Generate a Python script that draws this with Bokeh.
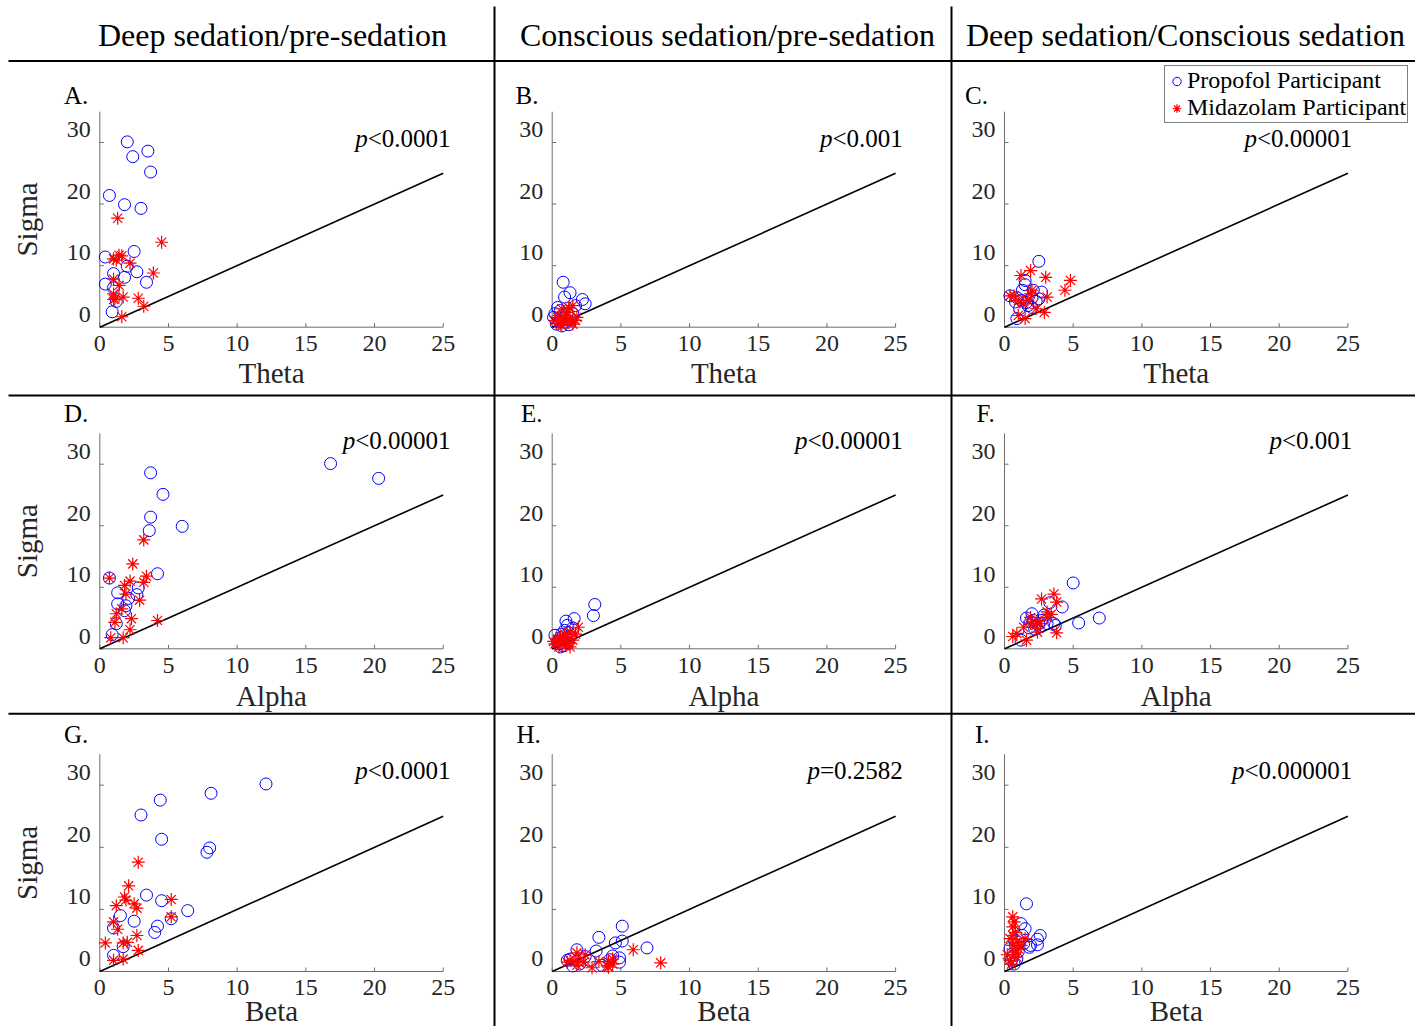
import math
from bokeh.plotting import figure
from bokeh.models import Range1d, Legend
from bokeh.core.properties import value
from bokeh.embed import file_html
from bokeh.resources import INLINE

# ---------------- data ----------------
col_headers = ["Deep sedation/pre-sedation", "Conscious sedation/pre-sedation",
               "Deep sedation/Conscious sedation"]
panel_letters = [["A.", "B.", "C."], ["D.", "E.", "F."], ["G.", "H.", "I."]]
x_labels = ["Theta", "Alpha", "Beta"]
y_label = "Sigma"
p_values = [["<0.0001", "<0.001", "<0.00001"],
            ["<0.00001", "<0.00001", "<0.001"],
            ["<0.0001", "=0.2582", "<0.000001"]]
series_names = ["Propofol Participant", "Midazolam Participant"]
x_ticks = [0, 5, 10, 15, 20, 25]
y_ticks = [0, 10, 20, 30]
x_axis_max = 25
y_axis_max = 35
unity_line = [0, 25]

A_prop_x = [2.0, 2.4, 3.5, 3.7, 0.7, 1.8, 3.0, 2.5, 0.4, 2.0, 2.7, 1.0, 1.8, 0.4, 3.4, 1.0, 1.2, 0.9]
A_prop_y = [30.1, 27.7, 28.6, 25.2, 21.4, 19.9, 19.3, 12.3, 11.4, 9.9, 9.0, 8.7, 8.1, 7.0, 7.3, 6.4, 4.2, 2.5]
A_mid_x = [1.3, 4.5, 1.0, 1.4, 1.2, 1.6, 2.2, 3.9, 1.0, 1.4, 1.0, 1.1, 1.7, 2.8, 3.2, 1.6, 1.0]
A_mid_y = [17.7, 13.8, 11.1, 11.7, 10.9, 11.6, 10.4, 8.8, 7.8, 6.8, 5.4, 4.6, 4.9, 4.7, 3.4, 1.7, 4.5]

B_prop_x = [0.8, 1.3, 0.9, 2.2, 2.4, 0.4, 1.7, 0.2, 0.1, 1.1, 0.6, 0.9, 1.5, 0.5, 1.2, 0.3, 1.0, 0.7]
B_prop_y = [7.3, 5.6, 4.9, 4.5, 3.8, 3.2, 3.5, 2.2, 1.6, 2.2, 2.7, 0.8, 2.2, 1.0, 0.4, 0.5, 1.2, 0.2]
B_mid_x = [1.5, 0.7, 1.1, 0.5, 1.3, 1.7, 0.9, 0.2, 0.6, 1.5, 1.1, 0.4, 1.0, 1.8, 0.7, 1.2, 0.9]
B_mid_y = [3.5, 3.0, 2.4, 1.9, 1.6, 1.1, 1.4, 1.1, 0.5, 0.5, 0.8, 1.6, 1.9, 1.6, 0.3, 3.2, 1.2]

C_prop_x = [2.5, 1.5, 1.5, 0.4, 2.1, 2.7, 1.2, 0.8, 2.5, 2.3, 1.7, 0.9, 2.0, 1.3, 1.1, 2.0, 1.6, 0.9]
C_prop_y = [10.7, 7.6, 6.9, 5.1, 6.0, 5.7, 4.4, 4.1, 4.6, 4.2, 3.5, 1.4, 4.8, 6.0, 3.0, 3.2, 4.0, 4.8]
C_mid_x = [1.9, 1.2, 3.0, 4.8, 4.4, 3.1, 2.0, 0.7, 0.4, 1.0, 1.7, 1.4, 2.3, 2.9, 1.0, 1.5, 1.9]
C_mid_y = [9.2, 8.4, 8.1, 7.6, 6.0, 4.9, 6.0, 5.1, 5.1, 4.3, 4.4, 3.8, 3.0, 2.4, 1.9, 1.4, 5.4]

D_prop_x = [16.8, 20.3, 3.7, 4.6, 3.7, 6.0, 3.6, 4.2, 0.7, 2.8, 1.3, 2.1, 1.3, 1.9, 2.7, 1.8, 1.2, 0.9]
D_prop_y = [30.1, 27.7, 28.6, 25.1, 21.4, 19.9, 19.2, 12.2, 11.5, 9.9, 9.1, 8.2, 7.3, 7.0, 8.8, 6.2, 4.1, 2.3]
D_mid_x = [3.2, 2.4, 3.4, 3.2, 2.2, 1.8, 0.7, 1.9, 2.9, 1.2, 1.6, 1.1, 2.3, 4.2, 2.2, 0.8, 1.7]
D_mid_y = [17.7, 13.8, 11.8, 10.8, 11.0, 10.3, 11.5, 8.9, 7.9, 5.7, 6.5, 4.3, 4.9, 4.6, 3.1, 1.8, 1.8]

E_prop_x = [3.1, 3.0, 1.6, 1.0, 1.1, 1.5, 0.2, 0.7, 1.0, 0.5, 1.3, 0.6, 0.9, 0.4, 1.1, 0.8, 1.2, 0.6]
E_prop_y = [7.2, 5.4, 4.9, 4.5, 3.8, 3.4, 2.2, 2.4, 1.6, 0.8, 1.9, 0.3, 3.0, 1.2, 1.0, 0.5, 2.6, 1.8]
E_mid_x = [1.9, 1.3, 0.9, 0.4, 1.1, 0.7, 1.5, 0.1, 0.6, 1.0, 0.5, 1.2, 1.7, 0.2, 0.9, 1.3]
E_mid_y = [3.5, 2.7, 2.4, 1.6, 1.6, 1.1, 1.4, 1.2, 1.9, 0.5, 0.3, 0.8, 2.4, 0.8, 1.6, 0.3]

F_prop_x = [5.0, 6.9, 5.4, 4.2, 3.3, 2.0, 1.6, 3.6, 1.8, 2.5, 2.7, 2.1, 3.7, 1.2, 3.1, 2.2, 2.9, 1.9]
F_prop_y = [10.7, 5.0, 4.2, 6.8, 7.5, 5.7, 5.0, 4.1, 3.4, 4.1, 4.6, 4.6, 3.8, 1.4, 4.1, 3.2, 5.5, 4.4]
F_mid_x = [3.6, 2.7, 3.8, 3.1, 3.4, 1.9, 2.4, 2.6, 1.9, 1.4, 2.3, 3.8, 0.9, 0.6, 1.6, 2.4, 3.1]
F_mid_y = [8.9, 8.1, 7.6, 6.0, 5.6, 5.1, 4.6, 4.1, 4.1, 3.5, 3.8, 2.6, 2.5, 2.0, 1.4, 2.7, 5.1]

G_prop_x = [12.1, 8.1, 4.4, 3.0, 4.5, 8.0, 7.8, 3.4, 4.5, 6.4, 1.5, 2.5, 5.2, 4.2, 4.0, 1.0, 1.7, 1.0]
G_prop_y = [30.2, 28.7, 27.6, 25.2, 21.3, 19.9, 19.2, 12.3, 11.4, 9.8, 9.0, 8.1, 8.5, 7.3, 6.3, 7.0, 4.0, 2.6]
G_mid_x = [2.8, 2.1, 1.8, 1.2, 1.9, 2.5, 2.7, 5.2, 5.2, 1.0, 1.3, 2.7, 0.4, 1.7, 2.0, 2.8, 1.7, 1.0]
G_mid_y = [17.6, 13.8, 12.0, 10.6, 11.5, 10.9, 10.2, 11.6, 8.8, 8.0, 6.8, 5.8, 4.6, 4.6, 4.7, 3.4, 2.0, 1.8]

H_prop_x = [5.1, 3.4, 4.6, 5.1, 6.9, 1.8, 3.2, 4.9, 4.4, 1.3, 2.7, 4.9, 1.5, 1.1, 2.0, 3.6, 2.4, 4.2]
H_prop_y = [7.3, 5.5, 4.6, 4.9, 3.8, 3.5, 3.3, 2.2, 2.5, 2.0, 1.8, 1.5, 0.9, 1.8, 1.2, 1.0, 2.4, 1.9]
H_mid_x = [5.9, 7.9, 1.8, 2.4, 1.3, 1.9, 3.4, 4.1, 4.4, 4.0, 2.9, 1.8, 1.1, 4.4, 2.3, 4.1]
H_mid_y = [3.5, 1.4, 3.0, 2.7, 1.8, 1.5, 1.6, 1.6, 1.2, 0.9, 0.6, 1.0, 1.5, 2.0, 1.5, 0.7]

I_prop_x = [1.6, 1.2, 1.5, 2.6, 2.4, 2.4, 1.9, 1.8, 1.0, 0.4, 0.7, 0.8, 1.3, 0.6, 1.0, 0.5, 1.4, 0.9]
I_prop_y = [10.9, 7.7, 6.9, 5.8, 5.2, 4.3, 4.2, 3.9, 4.7, 3.7, 1.2, 4.2, 5.8, 2.5, 3.2, 1.8, 4.5, 2.0]
I_mid_x = [0.6, 0.7, 0.6, 0.8, 1.5, 0.9, 0.6, 1.0, 0.2, 0.7, 0.4, 0.9, 0.5, 0.8, 1.2, 0.4, 0.6]
I_mid_y = [8.8, 8.0, 5.8, 6.3, 5.3, 4.7, 4.2, 3.7, 2.7, 2.7, 1.8, 2.3, 1.2, 3.1, 4.2, 5.3, 7.2]

panel_data = [
    [(A_prop_x, A_prop_y, A_mid_x, A_mid_y), (B_prop_x, B_prop_y, B_mid_x, B_mid_y),
     (C_prop_x, C_prop_y, C_mid_x, C_mid_y)],
    [(D_prop_x, D_prop_y, D_mid_x, D_mid_y), (E_prop_x, E_prop_y, E_mid_x, E_mid_y),
     (F_prop_x, F_prop_y, F_mid_x, F_mid_y)],
    [(G_prop_x, G_prop_y, G_mid_x, G_mid_y), (H_prop_x, H_prop_y, H_mid_x, H_mid_y),
     (I_prop_x, I_prop_y, I_mid_x, I_mid_y)],
]

# ---------------- layout (canvas pixels, origin top-left) ----------------
FONT = "Liberation Serif"
DARK = "#262626"
AXIS_COLOR = "#6e6e6e"
CANVAS_W, CANVAS_H = 1415, 1026
COL_X0 = [99.3, 551.7, 1004.0]      # pixel of data x = 0 in each column
ROW_Y0 = [326.7, 648.3, 971.0]      # pixel of data y = 0 in each row
KX = 343.4 / 25                     # px per x unit
KY = [6.157, 6.153, 6.21]           # px per y unit for each row
HLINES_Y = [60.5, 395, 713.3]
HLINE_X0 = 8
VLINES_X = [494, 951]
VLINE_Y0 = 6
HEADER_X = [272, 727, 1185]
HEADER_Y = 34.5
LETTER_X = [[63.5, 515, 964.5], [63.5, 520.5, 976], [63.5, 516, 974.5]]
LETTER_Y = [95, 413.3, 733.8]
PTEXT_X = [25.53, 25.52, 25.32]
PTEXT_Y = [30.6, 33.93, 32.29]
XTICK_OFF = 16.2
YTICK_OFF = -12.7
XLABEL_OFF = [45.8, 47.2, 39.5]
SIGMA_X = -5.3
TICK_LEN = 4
PT_SIZE = 25
CHAR_W = {".": 0.25, "<": 0.564, "=": 0.564}


def text_width(s, size):
    return sum(CHAR_W.get(ch, 0.5) for ch in s) * size


p = figure(width=CANVAS_W, height=CANVAS_H, x_range=Range1d(0, CANVAS_W),
           y_range=Range1d(CANVAS_H, 0), x_axis_type=None, y_axis_type=None,
           toolbar_location=None, output_backend="svg", min_border=0,
           outline_line_color=None, background_fill_color="white")

# panel coordinate systems (through Bokeh's own scales)
for c in range(3):
    x0 = COL_X0[c]
    p.extra_x_ranges[f"xc{c}"] = Range1d(-x0 / KX, (CANVAS_W - x0) / KX)
for r in range(3):
    y0, ky = ROW_Y0[r], KY[r]
    p.extra_y_ranges[f"yr{r}"] = Range1d(-(CANVAS_H - y0) / ky, y0 / ky)

# separators
for yy in HLINES_Y:
    p.line(x=[HLINE_X0, CANVAS_W], y=[yy, yy], line_color="black", line_width=2)
for xx in VLINES_X:
    p.line(x=[xx, xx], y=[VLINE_Y0, CANVAS_H], line_color="black", line_width=2)

# column headers
for c in range(3):
    p.text(x=[HEADER_X[c]], y=[HEADER_Y], text=[col_headers[c]], text_align="center",
           text_baseline="middle", text_font=value(FONT), text_font_size="32px",
           text_color="black")

legend_items = None
for r in range(3):
    for c in range(3):
        kw = dict(x_range_name=f"xc{c}", y_range_name=f"yr{r}")
        ky = KY[r]
        # axes
        p.line(x=[0, x_axis_max], y=[0, 0], line_color=AXIS_COLOR, line_width=1, **kw)
        p.line(x=[0, 0], y=[0, y_axis_max], line_color=AXIS_COLOR, line_width=1, **kw)
        p.segment(x0=x_ticks, y0=[0] * len(x_ticks), x1=x_ticks,
                  y1=[TICK_LEN / ky] * len(x_ticks), line_color=AXIS_COLOR, line_width=1, **kw)
        p.segment(x0=[0] * len(y_ticks), y0=y_ticks, x1=[TICK_LEN / KX] * len(y_ticks),
                  y1=y_ticks, line_color=AXIS_COLOR, line_width=1, **kw)
        p.text(x=x_ticks, y=[0] * len(x_ticks), text=[str(t) for t in x_ticks],
               text_align="center", text_baseline="middle", y_offset=XTICK_OFF,
               text_font=value(FONT), text_font_size="24px", text_color=DARK, **kw)
        p.text(x=[0] * len(y_ticks), y=y_ticks, text=[str(t) for t in y_ticks],
               text_align="right", text_baseline="middle", x_offset=-9, y_offset=YTICK_OFF,
               text_font=value(FONT), text_font_size="24px", text_color=DARK, **kw)
        p.text(x=[x_axis_max / 2], y=[0], text=[x_labels[r]], text_align="center",
               text_baseline="middle", y_offset=XLABEL_OFF[r], text_font=value(FONT),
               text_font_size="29px", text_color=DARK, **kw)
        if c == 0:
            p.text(x=[SIGMA_X], y=[y_axis_max / 2], text=[y_label], angle=math.pi / 2,
                   text_align="center", text_baseline="middle", text_font=value(FONT),
                   text_font_size="29px", text_color=DARK, **kw)

        # panel letter
        p.text(x=[LETTER_X[r][c]], y=[LETTER_Y[r]], text=[panel_letters[r][c]],
               text_align="left", text_baseline="middle", text_font=value(FONT),
               text_font_size="25px", text_color="black")

        # data
        px, py, mx, my = panel_data[r][c]
        p.line(x=unity_line, y=unity_line, line_color="black", line_width=1.6, **kw)
        rp = p.scatter(x=px, y=py, marker="circle", size=12, fill_color=None,
                       line_color="#0000FF", line_width=1, **kw)
        rm = p.scatter(x=mx, y=my, marker="asterisk", size=13, line_color="#FF0000",
                       line_width=1.2, **kw)
        if r == 0 and c == 2:
            legend_items = [(series_names[0], [rp]), (series_names[1], [rm])]

        # p-value annotation
        ptxt = p_values[r][c]
        p.text(x=[PTEXT_X[c]], y=[PTEXT_Y[r]], text=[ptxt], text_align="right",
               text_baseline="middle", text_font=value(FONT),
               text_font_size=f"{PT_SIZE}px", text_color="black", **kw)
        p.text(x=[PTEXT_X[c]], y=[PTEXT_Y[r]], text=["p"], text_align="right",
               text_baseline="middle", text_font=value(FONT), text_font_style="italic",
               text_font_size=f"{PT_SIZE}px", text_color="black",
               x_offset=-text_width(ptxt, PT_SIZE), **kw)

legend = Legend(items=legend_items, location=(1164, 903))
legend.label_text_font = FONT
legend.label_text_font_size = "24px"
legend.label_text_color = "black"
legend.border_line_color = "black"
legend.border_line_width = 1.5
legend.background_fill_color = "white"
legend.background_fill_alpha = 1
legend.padding = 1
legend.spacing = 0
legend.margin = 0
legend.glyph_width = 21
legend.glyph_height = 26
legend.label_height = 26
legend.label_standoff = 0
p.add_layout(legend)

open("out.html", "w").write(file_html(p, INLINE))
